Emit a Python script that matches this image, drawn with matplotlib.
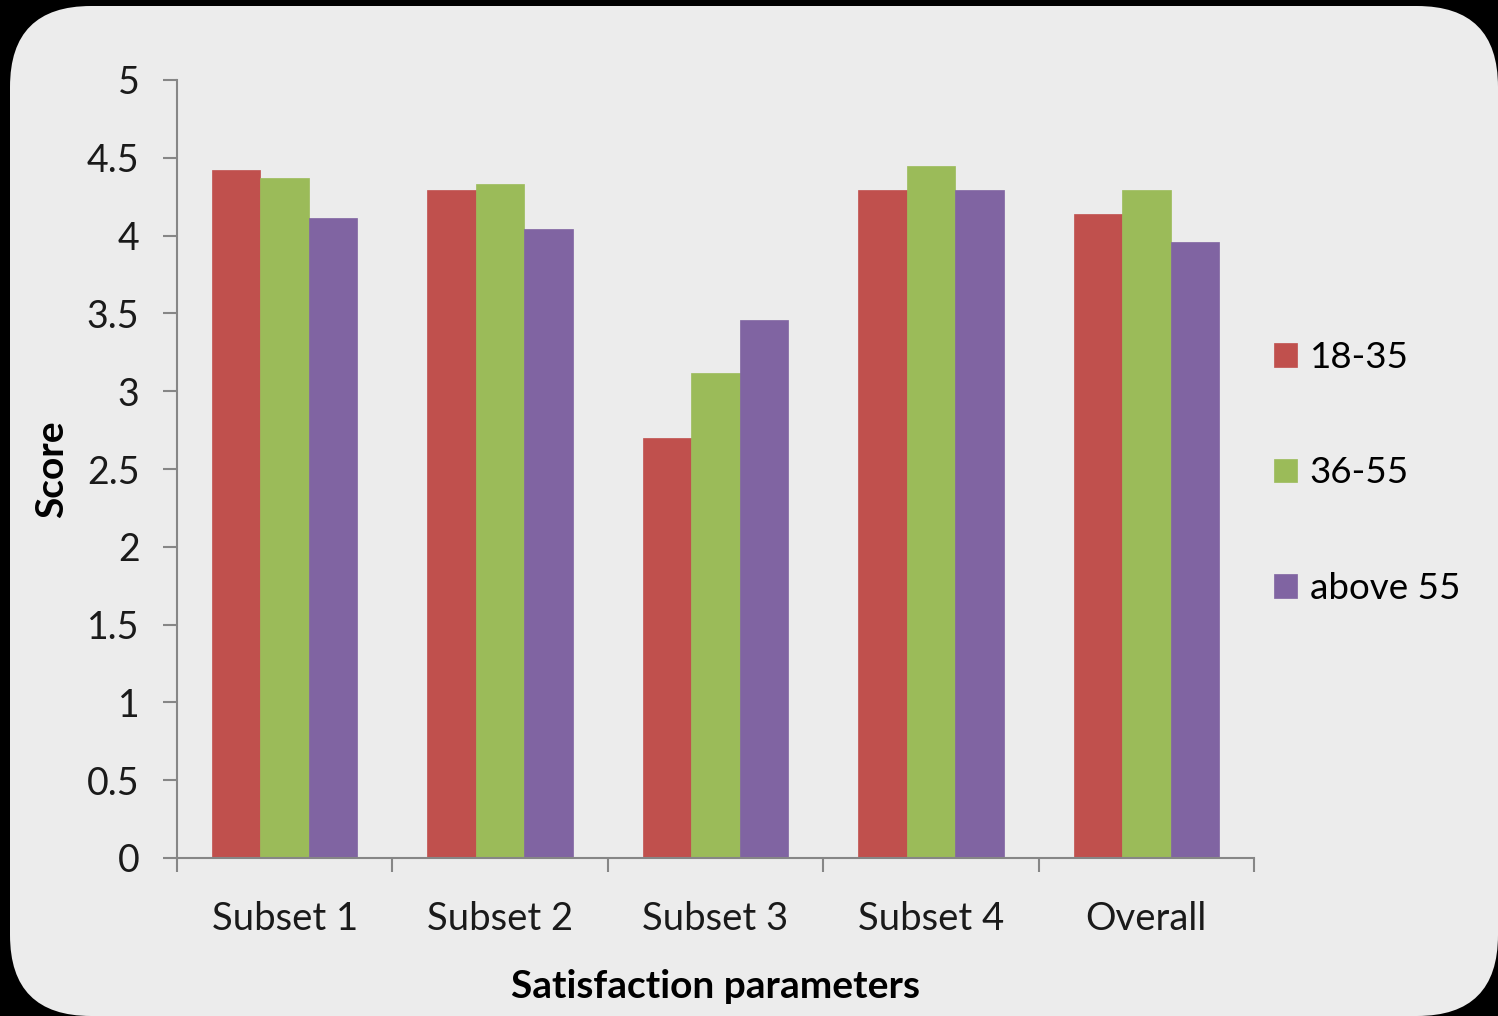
import numpy as np
import matplotlib
matplotlib.use('Agg')
import matplotlib.pyplot as plt
from matplotlib.patches import FancyBboxPatch

# scores by age group for each satisfaction subset
categories = ['Subset 1', 'Subset 2', 'Subset 3', 'Subset 4', 'Overall']
groups = ['18-35', '36-55', 'above 55']
score_18_35 = [4.42, 4.29, 2.70, 4.29, 4.14]
score_36_55 = [4.37, 4.33, 3.12, 4.45, 4.29]
score_above_55 = [4.11, 4.04, 3.46, 4.29, 3.96]
y_ticks = [0, 0.5, 1, 1.5, 2, 2.5, 3, 3.5, 4, 4.5, 5]

colors = ['#C0504D', '#9BBB59', '#8064A2']
bg = '#ECECEC'
axis_gray = '#868686'

plt.rcParams['font.family'] = ['Lato', 'DejaVu Sans']

fig = plt.figure(figsize=(14.98, 10.16), dpi=100)
fig.patch.set_facecolor('black')

# rounded light panel behind the chart
panel = FancyBboxPatch((10 / 1498, 0), 1 - 10 / 1498, 1 - 6 / 1016,
                       boxstyle='round,pad=0,rounding_size=0.054',
                       transform=fig.transFigure, facecolor=bg,
                       edgecolor='none', mutation_aspect=1498 / 1016, zorder=-10)
fig.patches.append(panel)

ax = fig.add_axes([177 / 1498, 158 / 1016, (1254 - 177) / 1498, (858 - 80) / 1016])
ax.set_facecolor('none')
ax.set_zorder(5)

x = np.arange(len(categories))
w = 0.225
series = [score_18_35, score_36_55, score_above_55]
for i, (vals, name) in enumerate(zip(series, groups)):
    ax.bar(x + (i - 1) * w, vals, width=w, color=colors[i], label=name,
           edgecolor=colors[i], linewidth=0.5)

ax.set_xlim(-0.5, len(categories) - 0.5)
ax.set_ylim(0, 5)
ax.set_yticks(y_ticks)
ax.set_yticklabels(['0', '0.5', '1', '1.5', '2', '2.5', '3', '3.5', '4', '4.5', '5'])
ax.set_xticks(x)
ax.set_xticklabels(categories)
ax.set_xticks(np.arange(-0.5, len(categories)), minor=True)

for s in ['top', 'right']:
    ax.spines[s].set_visible(False)
for s in ['left', 'bottom']:
    ax.spines[s].set_color(axis_gray)
    ax.spines[s].set_linewidth(1.5)

ax.tick_params(axis='y', direction='out', length=10, width=1.5, color=axis_gray,
               labelsize=27, labelcolor='#1a1a1a', pad=17)
ax.tick_params(axis='x', which='major', length=0, labelsize=27.5,
               labelcolor='#1a1a1a', pad=31)
ax.tick_params(axis='x', which='minor', direction='out', length=10, width=1.5,
               color=axis_gray)

ax.set_ylabel('Score', fontsize=28, fontweight='bold', labelpad=13)
ax.set_xlabel('Satisfaction parameters', fontsize=28, fontweight='bold', labelpad=23)

ax.legend(loc='center left', bbox_to_anchor=(1.005, 0.495), frameon=False,
          fontsize=26.5, handlelength=0.62, handleheight=0.62, handletextpad=0.35,
          labelspacing=2.25, borderaxespad=0)

fig.savefig('out.png', dpi=100, facecolor=fig.get_facecolor())
